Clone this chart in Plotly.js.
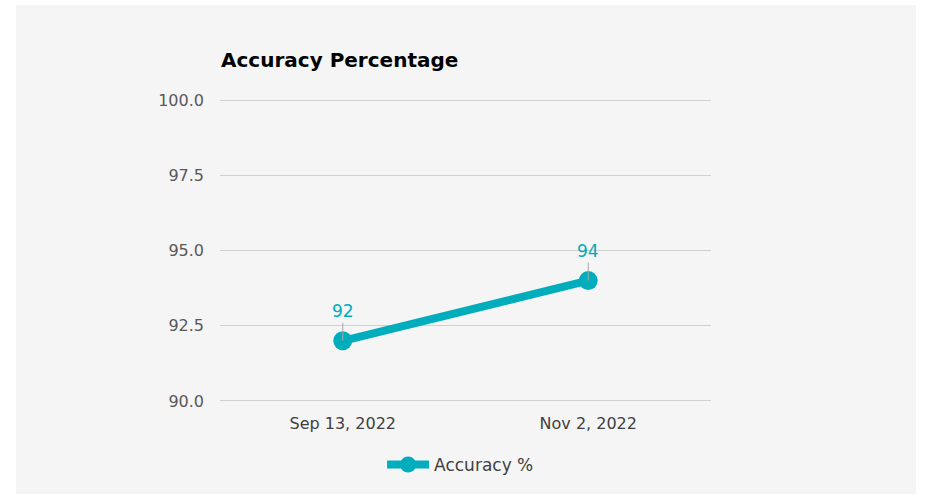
<!DOCTYPE html>
<html>
<head>
<meta charset="utf-8">
<script src="https://cdn.plot.ly/plotly-3.0.1.min.js"></script>
<style>
  html, body { margin: 0; padding: 0; background: #ffffff; width: 927px; height: 496px; overflow: hidden; }
  #chart { position: absolute; left: 16px; top: 5px; width: 900px; height: 489px; }
</style>
</head>
<body>
<div id="chart"></div>
<script>
const categories = ["Sep 13, 2022", "Nov 2, 2022"];
const accuracy = [92, 94];
const yTicks = [90, 92.5, 95, 97.5, 100];
const yTickLabels = ["90.0", "92.5", "95.0", "97.5", "100.0"];
const seriesName = "Accuracy %";
const chartTitle = "Accuracy Percentage";

const teal = "#00adbd";
const fontFam = "'DejaVu Sans', sans-serif";

const trace = {
  x: categories,
  y: accuracy,
  type: "scatter",
  mode: "lines+markers",
  name: seriesName,
  line: { color: teal, width: 8 },
  marker: { color: teal, size: 19 },
  hoverinfo: "x+y"
};

const annotations = categories.map((c, i) => ({
  x: c, y: accuracy[i], xref: "x", yref: "y",
  text: String(accuracy[i]),
  showarrow: true, arrowhead: 0, arrowwidth: 1, arrowcolor: "#a6a6a6",
  ax: 0, ay: -18, standoff: 0,
  font: { family: fontFam, size: 17, color: teal },
  yanchor: "bottom"
}));
annotations.push({
  xref: "paper", yref: "paper", x: -0.003, y: 1.075, xanchor: "left", yanchor: "bottom",
  text: "<b>" + chartTitle + "</b>", showarrow: false,
  font: { family: "'DejaVu Sans', sans-serif", size: 20, color: "#000000" }
});

const layout = {
  width: 900, height: 489,
  paper_bgcolor: "#f5f5f5",
  plot_bgcolor: "#f5f5f5",
  margin: { l: 204, r: 205, t: 92, b: 90, autoexpand: false },
  showlegend: true,
  legend: {
    orientation: "h", x: 0.49, xanchor: "center", y: -0.14, yanchor: "top",
    itemwidth: 42,
    font: { family: fontFam, size: 17, color: "#404040" },
    bgcolor: "rgba(0,0,0,0)"
  },
  xaxis: {
    type: "category",
    range: [-0.5, 1.5],
    showgrid: false, zeroline: false, showline: false,
    ticks: "", ticklen: 0, ticklabelstandoff: 8,
    tickfont: { family: fontFam, size: 16, color: "#404040" }
  },
  yaxis: {
    range: [89.9, 100.1],
    tickvals: yTicks, ticktext: yTickLabels,
    showgrid: true, gridcolor: "#d0d0d0", gridwidth: 1,
    zeroline: false, showline: false, ticks: "", ticklabelstandoff: 15,
    tickfont: { family: fontFam, size: 16, color: "#595959" }
  },
  annotations: annotations
};

Plotly.newPlot("chart", [trace], layout, { displayModeBar: false, staticPlot: true });
</script>
</body>
</html>
